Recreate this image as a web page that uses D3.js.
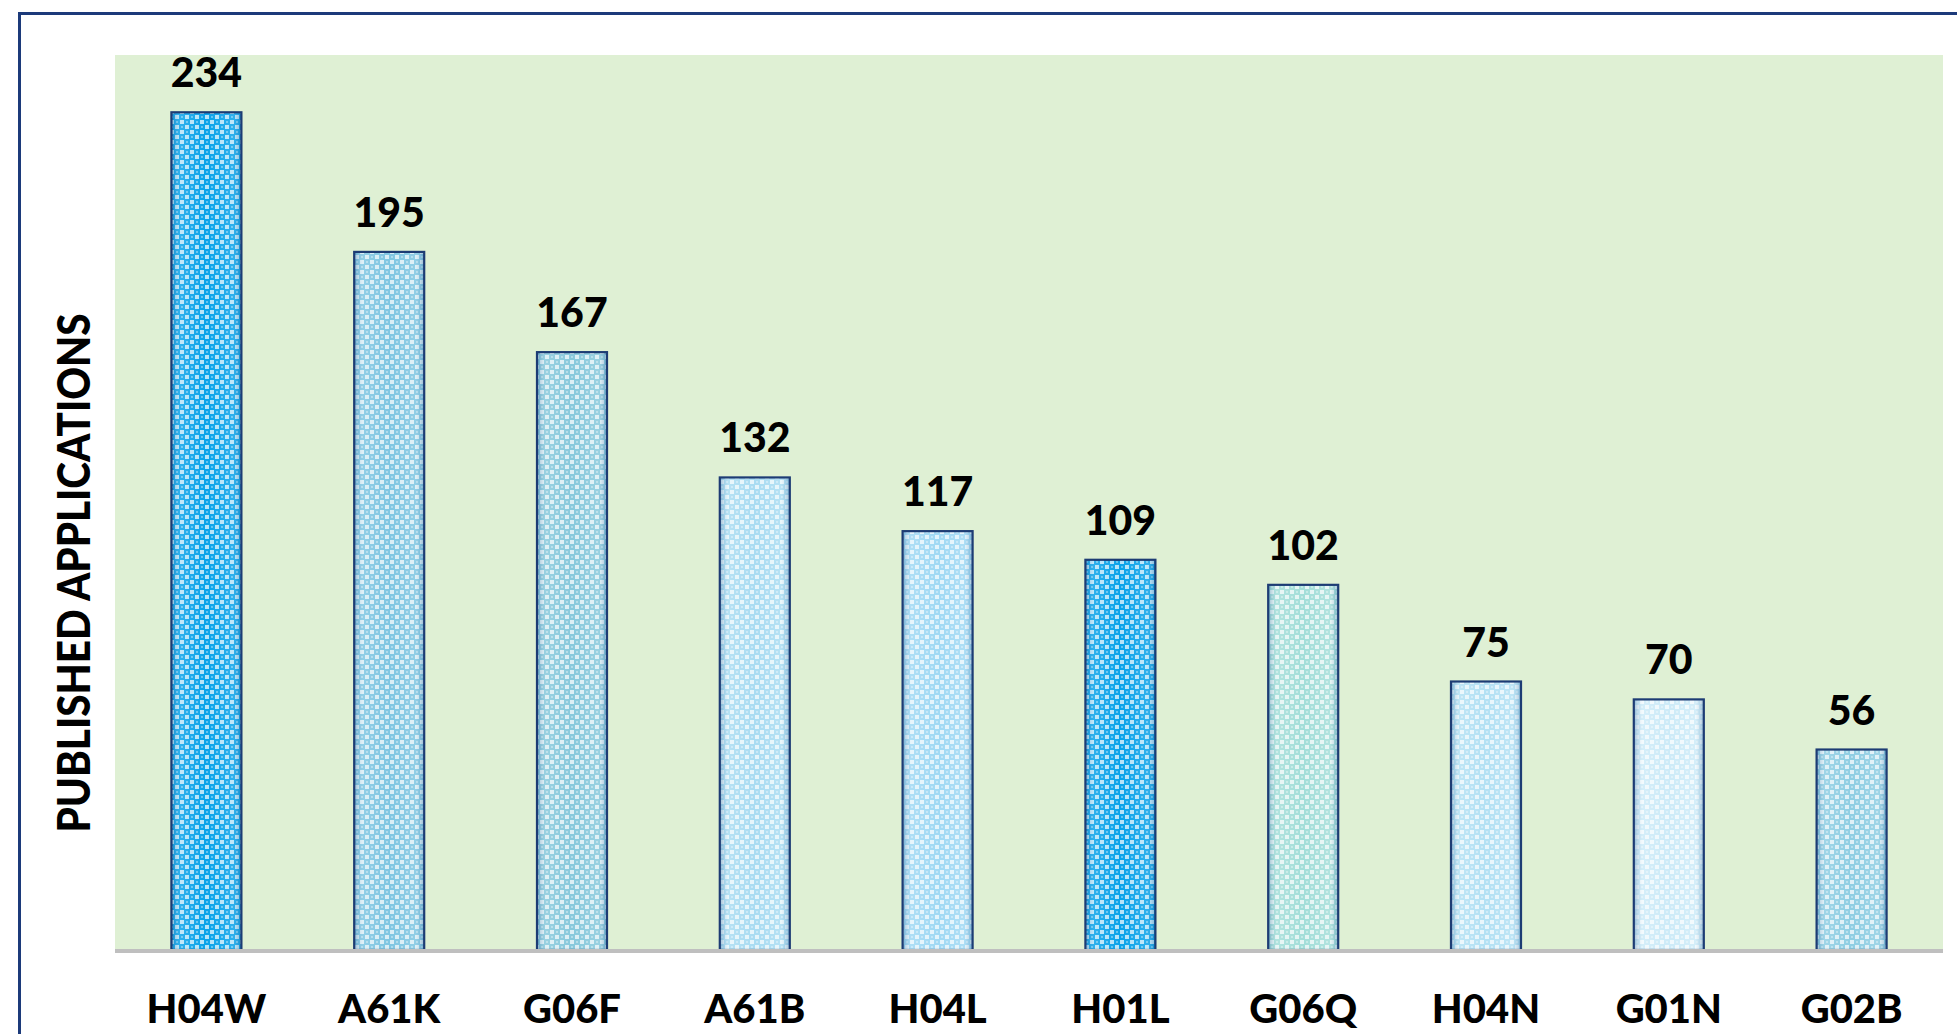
<!DOCTYPE html>
<html>
<head>
<meta charset="utf-8">
<script src="https://cdn.jsdelivr.net/npm/d3@7"></script>
<style>
  body { margin: 0; background: #fff; }
  text { font-family: Lato, "Open Sans", sans-serif; font-weight: 900; fill: #000; }
</style>
</head>
<body>
<svg width="1957" height="1034"></svg>
<script>
const svg = d3.select('svg');
const width = +svg.attr('width');
const height = +svg.attr('height');

// data
const categories = ['H04W', 'A61K', 'G06F', 'A61B', 'H04L', 'H01L', 'G06Q', 'H04N', 'G01N', 'G02B'];
const values = [234, 195, 167, 132, 117, 109, 102, 75, 70, 56];
const barColors = ['#0aa3ea', '#7fc6e2', '#88c9dc', '#a9dcf2', '#a0d9f4', '#0aa3ea', '#a3ded9', '#b3e1f4', '#cdebf8', '#8fcee3'];

const plot = { left: 115, right: 1943, top: 55, bottom: 950 };

const x = d3.scaleBand()
  .domain(categories)
  .range([plot.left, plot.right])
  .paddingInner(0.617)
  .paddingOuter(0.3085);

const y = d3.scaleLinear()
  .domain([0, 250])
  .range([plot.bottom, plot.top]);

const defs = svg.append('defs');

// checker patterns, one per bar colour
barColors.forEach((c, i) => {
  const p = defs.append('pattern')
    .attr('id', 'pat' + i)
    .attr('patternUnits', 'userSpaceOnUse')
    .attr('width', 10).attr('height', 10);
  p.append('rect').attr('width', 10).attr('height', 10).attr('fill', c);
  p.append('rect').attr('x', 0).attr('y', 0).attr('width', 4).attr('height', 4).attr('fill', '#fff').attr('opacity', 0.7);
  p.append('rect').attr('x', 5).attr('y', 5).attr('width', 4).attr('height', 4).attr('fill', '#fff').attr('opacity', 0.7);
  p.append('rect').attr('x', 6).attr('y', 1).attr('width', 2).attr('height', 2).attr('fill', '#fff').attr('opacity', 0.35);
  p.append('rect').attr('x', 1).attr('y', 6).attr('width', 2).attr('height', 2).attr('fill', '#fff').attr('opacity', 0.35);
});

// shading toward the bar edges
const grad = defs.append('linearGradient').attr('id', 'edge').attr('x1', 0).attr('x2', 1);
grad.append('stop').attr('offset', '0%').attr('stop-color', '#0b4f8a').attr('stop-opacity', 0.35);
grad.append('stop').attr('offset', '12%').attr('stop-color', '#ffffff').attr('stop-opacity', 0.15);
grad.append('stop').attr('offset', '50%').attr('stop-color', '#ffffff').attr('stop-opacity', 0);
grad.append('stop').attr('offset', '88%').attr('stop-color', '#ffffff').attr('stop-opacity', 0.15);
grad.append('stop').attr('offset', '100%').attr('stop-color', '#0b4f8a').attr('stop-opacity', 0.35);

// outer frame
svg.append('rect')
  .attr('x', 19.5).attr('y', 13.5)
  .attr('width', 2100).attr('height', 1200)
  .attr('fill', 'none')
  .attr('stroke', '#1c3a7a')
  .attr('stroke-width', 3);

// plot background
svg.append('rect')
  .attr('x', plot.left).attr('y', plot.top)
  .attr('width', plot.right - plot.left)
  .attr('height', plot.bottom - plot.top)
  .attr('fill', '#dff0d4');

// bars
const bars = svg.append('g').selectAll('g')
  .data(categories)
  .enter().append('g');

bars.append('rect')
  .attr('x', d => x(d))
  .attr('y', (d, i) => y(values[i]))
  .attr('width', x.bandwidth())
  .attr('height', (d, i) => y(0) - y(values[i]))
  .attr('fill', (d, i) => 'url(#pat' + i + ')');

bars.append('rect')
  .attr('x', d => x(d))
  .attr('y', (d, i) => y(values[i]))
  .attr('width', x.bandwidth())
  .attr('height', (d, i) => y(0) - y(values[i]))
  .attr('fill', 'url(#edge)')
  .attr('stroke', '#1d3c74')
  .attr('stroke-width', 2.2);

// value labels
bars.append('text')
  .attr('x', d => x(d) + x.bandwidth() / 2)
  .attr('y', (d, i) => y(values[i]) - 25)
  .attr('text-anchor', 'middle')
  .style('font-size', '41px')
  .text((d, i) => values[i]);

// baseline
svg.append('line')
  .attr('x1', plot.left).attr('x2', plot.right)
  .attr('y1', y(0) + 1).attr('y2', y(0) + 1)
  .attr('stroke', '#bfbfbf')
  .attr('stroke-width', 4);

// x axis labels
const xAxis = svg.append('g')
  .attr('transform', `translate(0,${plot.bottom})`)
  .call(d3.axisBottom(x).tickSize(0).tickPadding(0));
xAxis.select('.domain').remove();
xAxis.selectAll('text')
  .attr('dy', null)
  .attr('y', 73)
  .style('font-size', '40px')
  .style('font-family', 'Lato, "Open Sans", sans-serif')
  .style('font-weight', 900)
  .attr('fill', '#000');

// y axis title
svg.append('text')
  .attr('transform', 'translate(90,573) rotate(-90)')
  .attr('text-anchor', 'middle')
  .attr('textLength', 519)
  .attr('lengthAdjust', 'spacingAndGlyphs')
  .style('font-size', '45px')
  .text('PUBLISHED APPLICATIONS');
</script>
</body>
</html>
